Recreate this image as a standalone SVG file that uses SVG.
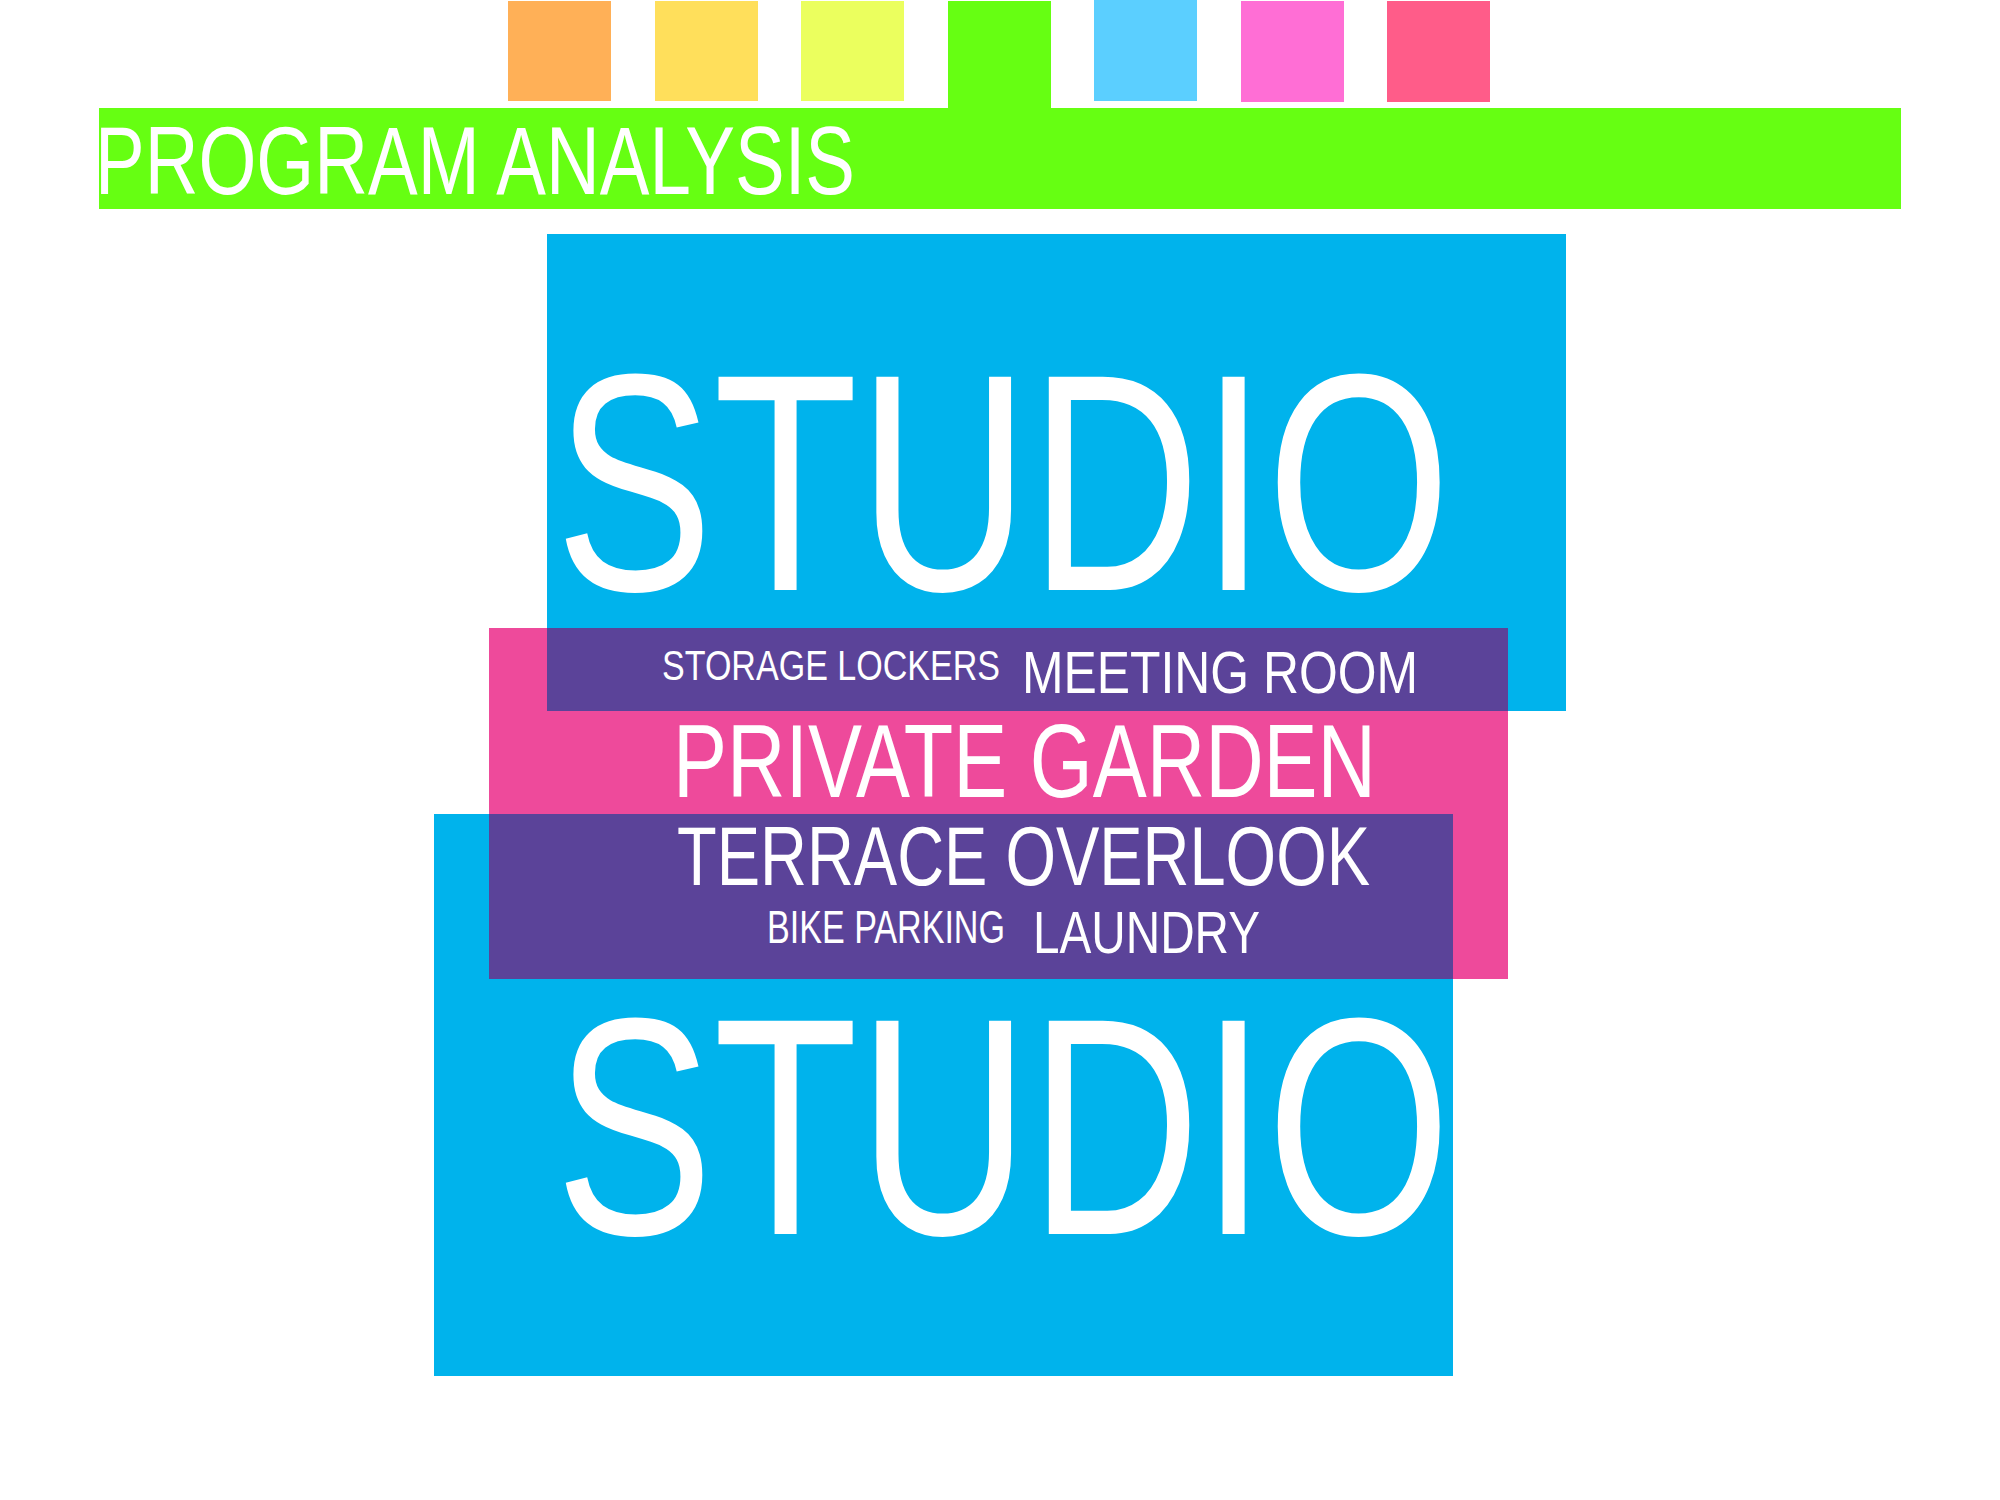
<svg xmlns="http://www.w3.org/2000/svg" width="2000" height="1500" viewBox="0 0 2000 1500">
<style>
.t{font-family:"Liberation Sans","DejaVu Sans",Arial,sans-serif;fill:#ffffff;}
.blue{fill:#00B3EC;}
.pink{fill:#EE4A9B;}
.purple{fill:#5B4399;}
</style>
<rect x="0" y="0" width="2000" height="1500" fill="#ffffff"/>
<g id="swatches">
<rect x="508" y="1" width="103" height="100" fill="#FFB057"/>
<rect x="655" y="1" width="103" height="100" fill="#FFDF5B"/>
<rect x="801" y="1" width="103" height="100" fill="#EBFF5E"/>
<rect x="948" y="1" width="103" height="107" fill="#66FF12"/>
<rect x="1094" y="0" width="103" height="101" fill="#5BCFFF"/>
<rect x="1241" y="1" width="103" height="101" fill="#FF6ED5"/>
<rect x="1387" y="1" width="103" height="101" fill="#FF5C89"/>
</g>
<g id="title">
<rect x="99" y="108" width="1802" height="101" fill="#66FF12"/>
<text class="t" x="95" y="194" font-size="96" textLength="760" lengthAdjust="spacingAndGlyphs">PROGRAM ANALYSIS</text>
</g>
<g id="studio-upper">
<rect class="blue" x="547" y="234" width="1019" height="477"/>
<text class="t" x="555" y="590" font-size="310" textLength="896" lengthAdjust="spacingAndGlyphs">STUDIO</text>
</g>
<g id="private-garden">
<rect class="pink" x="489" y="628" width="1019" height="351"/>
<text class="t" x="673" y="797" font-size="104" textLength="703" lengthAdjust="spacingAndGlyphs">PRIVATE GARDEN</text>
</g>
<g id="shared-upper">
<rect class="purple" x="547" y="628" width="961" height="83"/>
<text class="t" x="662" y="680" font-size="42" textLength="338" lengthAdjust="spacingAndGlyphs">STORAGE LOCKERS</text>
<text class="t" x="1022" y="693" font-size="60" textLength="396" lengthAdjust="spacingAndGlyphs">MEETING ROOM</text>
</g>
<g id="studio-lower">
<rect class="blue" x="434" y="814" width="1019" height="562"/>
<text class="t" x="555" y="1234" font-size="310" textLength="896" lengthAdjust="spacingAndGlyphs">STUDIO</text>
</g>
<g id="shared-lower">
<rect class="purple" x="489" y="814" width="964" height="165"/>
<text class="t" x="677" y="885" font-size="84" textLength="693" lengthAdjust="spacingAndGlyphs">TERRACE OVERLOOK</text>
<text class="t" x="767" y="943" font-size="46" textLength="238" lengthAdjust="spacingAndGlyphs">BIKE PARKING</text>
<text class="t" x="1033" y="953" font-size="60" textLength="227" lengthAdjust="spacingAndGlyphs">LAUNDRY</text>
</g>
<g id="connectors"></g>
</svg>
